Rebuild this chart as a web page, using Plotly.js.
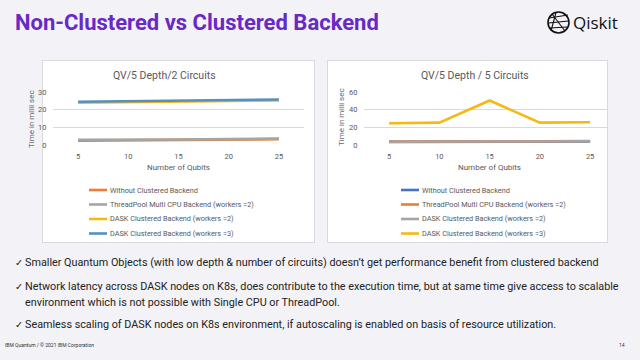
<!DOCTYPE html>
<html><head><meta charset="utf-8">
<script src="https://cdn.plot.ly/plotly-3.0.1.min.js"></script>
<style>
html,body{margin:0;padding:0;background:#f2f2f7;}
#wrap{position:relative;width:640px;height:360px;}
.box{position:absolute;background:#fff;border:1px solid #d9d9de;box-sizing:border-box;}
#chart{position:absolute;left:0;top:0;width:640px;height:360px;}
</style>
</head><body><div id="wrap">
<div class="box" style="left:42px;top:60px;width:273px;height:183px"></div>
<div class="box" style="left:327px;top:60px;width:281px;height:183px"></div>
<div id="chart"></div></div>
<script>
// ---- data ----
const qubits = [5, 10, 15, 20, 25];
const seriesNamesLeft = ["Without Clustered Backend", "ThreadPool Multi CPU Backend (workers =2)", "DASK Clustered Backend (workers =2)", "DASK Clustered Backend (workers =3)"];
const seriesNamesRight = ["Without Clustered Backend", "ThreadPool Multi CPU Backend (workers =2)", "DASK Clustered Backend (workers =2)", "DASK Clustered Backend (workers =3)"];
const leftWithout    = [2.5, 2.6, 2.8, 3.0, 3.3];
const leftThreadPool = [3.0, 2.9, 3.1, 3.3, 3.6];
const leftDask2      = [24.0, 24.3, 24.6, 24.9, 25.3];
const leftDask3      = [24.5, 24.8, 25.0, 25.3, 25.8];
const rightWithout    = [3.5, 3.4, 3.6, 3.8, 4.0];
const rightThreadPool = [3.9, 3.8, 4.1, 4.3, 4.6];
const rightDask2      = [3.7, 3.5, 3.9, 4.0, 4.3];
const rightDask3      = [24.7, 25.4, 50.4, 25.4, 25.8];
const leftTicksY = [0, 10, 20, 30];
const rightTicksY = [0, 20, 40, 60];
const bullets = [
  "Smaller Quantum Objects (with low depth & number of circuits) doesn’t get performance benefit from clustered backend",
  "Network latency across DASK nodes on K8s, does contribute to the execution time, but at same time give access to scalable",
  "environment which is not possible with Single CPU or ThreadPool.",
  "Seamless scaling of DASK nodes on K8s environment, if autoscaling is enabled on basis of resource utilization."
];

// ---- styles ----
const leftColors = ["#ed7d31", "#a5a5a5", "#f5b914", "#5590c0"];
const rightColors = ["#4472c4", "#ed7d31", "#a5a5a5", "#f5b914"];
const W = 640, H = 360;
const px = x => x / W, py = y => 1 - y / H;
const txtGray = "#595959";
const FONT = "Roboto, 'Liberation Sans', sans-serif";

const leftData = [leftWithout, leftThreadPool, leftDask2, leftDask3];
const rightData = [rightWithout, rightThreadPool, rightDask2, rightDask3];
const traces = [];
leftData.forEach((d, i) => traces.push({x: qubits, y: d, type: "scatter", mode: "lines", name: seriesNamesLeft[i], xaxis: "x", yaxis: "y", line: {color: leftColors[i], width: 2.6}, showlegend: false, hoverinfo: "skip"}));
rightData.forEach((d, i) => traces.push({x: qubits, y: d, type: "scatter", mode: "lines", name: seriesNamesRight[i], xaxis: "x2", yaxis: "y2", line: {color: rightColors[i], width: 2.6}, showlegend: false, hoverinfo: "skip"}));

const shapes = [];
const annotations = [];

// legends
const legRows = [190, 204.5, 219, 233.5];
function legend(names, colors, x0) {
  names.forEach((n, i) => {
    shapes.push({type: "line", xref: "paper", yref: "paper", x0: px(x0), x1: px(x0 + 18), y0: py(legRows[i]), y1: py(legRows[i]), line: {color: colors[i], width: 2.6}});
    annotations.push({xref: "paper", yref: "paper", x: px(x0 + 19), y: py(legRows[i]), xanchor: "left", yanchor: "middle", showarrow: false, text: n, font: {family: FONT, size: 7.3, color: txtGray}});
  });
}
legend(seriesNamesLeft, leftColors, 89);
legend(seriesNamesRight, rightColors, 401);

// chart titles and axis titles
function ann(x, y, text, size, color, extra) {
  annotations.push(Object.assign({xref: "paper", yref: "paper", x: px(x), y: py(y), showarrow: false, text: text, font: {family: FONT, size: size, color: color}, xanchor: "center", yanchor: "middle"}, extra || {}));
}
ann(164, 75, "QV/5 Depth/2 Circuits", 10.5, txtGray);
ann(475, 75, "QV/5 Depth / 5 Circuits", 10.5, txtGray);
ann(178, 167.5, "Number of Qubits", 8, txtGray);
ann(489, 167.5, "Number of Qubits", 8, txtGray);
ann(32, 119, "Time in milli sec", 8, "#6a6a6a", {textangle: -90});
ann(342, 117, "Time in milli sec", 8, "#6a6a6a", {textangle: -90});

// slide title
ann(13, 22, "<b>Non-Clustered vs Clustered Backend</b>", 22, "#6929c4", {xanchor: "left"});
// Qiskit logo
ann(571, 22, "Qiskit", 17, "#111111", {xanchor: "left", font: {family: "'Open Sans', sans-serif", size: 17, color: "#111"}});
shapes.push({type: "circle", xref: "paper", yref: "paper", x0: px(548), x1: px(569), y0: py(12), y1: py(33), line: {color: "#111", width: 1.6}});
[[549, 18, 568, 15], [548.5, 23, 568.5, 21], [550, 28, 567, 27], [552, 14, 565, 31], [556, 12.5, 551, 31]].forEach(s =>
  shapes.push({type: "line", xref: "paper", yref: "paper", x0: px(s[0]), y0: py(s[1]), x1: px(s[2]), y1: py(s[3]), line: {color: "#111", width: 1.1}}));

// bullets
const bulletY = [262, 286, 302, 324];
const checkY = [262, 286, null, 324];
bullets.forEach((b, i) => {
  ann(23, bulletY[i], b, 10.8, "#222222", {xanchor: "left"});
  if (checkY[i] !== null) ann(13, checkY[i], "✓", 10, "#222222", {xanchor: "left", font: {family: "'DejaVu Sans'", size: 9.5, color: "#222"}});
});
// footer
ann(3, 345, "IBM Quantum / © 2021 IBM Corporation", 5, "#333333", {xanchor: "left"});
ann(627, 345, "14", 5, "#333333", {xanchor: "right"});

const axisFont = {family: FONT, size: 7.5, color: txtGray};
const common = {zeroline: false, showline: false, ticks: "outside", ticklen: 4, tickcolor: "rgba(0,0,0,0)", tickfont: axisFont, automargin: false, ticklabeloverflow: "allow"};
const layout = {
  width: W, height: H,
  margin: {l: 0, r: 0, t: 0, b: 0},
  paper_bgcolor: "rgba(0,0,0,0)", plot_bgcolor: "rgba(0,0,0,0)",
  showlegend: false,
  xaxis: Object.assign({domain: [px(53), px(304)], range: [2.5, 27.5], tickvals: qubits, showgrid: false}, common),
  yaxis: Object.assign({domain: [py(145), py(92)], range: [0, 30.02], tickvals: leftTicksY, gridcolor: "#d9d9d9", gridwidth: 1}, common),
  xaxis2: Object.assign({domain: [px(364), px(607)], range: [2.5, 26.68], anchor: "y2", tickvals: qubits, showgrid: false}, common),
  yaxis2: Object.assign({domain: [py(145), py(92)], range: [0, 60.04], anchor: "x2", tickvals: rightTicksY, gridcolor: "#d9d9d9", gridwidth: 1}, common),
  shapes: shapes,
  annotations: annotations,
  font: {family: FONT}
};
Plotly.newPlot("chart", traces, layout, {displayModeBar: false, staticPlot: true});
</script></body></html>
